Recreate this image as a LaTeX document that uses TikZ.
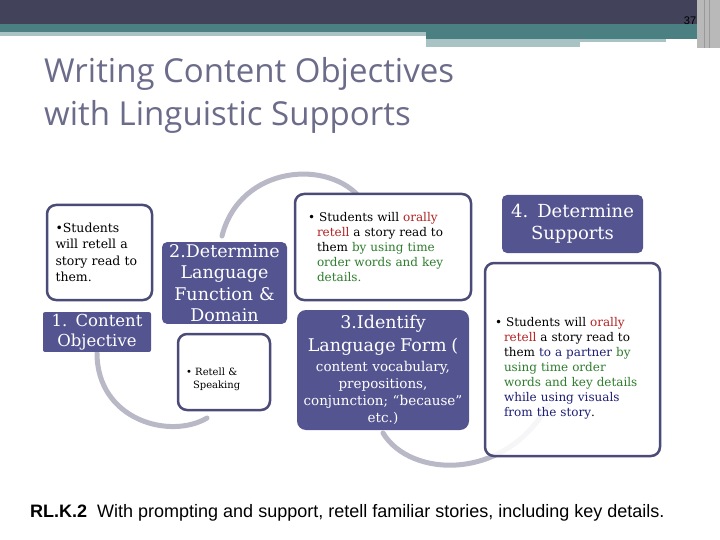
\documentclass[tikz,border=0pt]{standalone}
\usepackage{fontspec}
\setmainfont{DejaVu Serif}
\newfontfamily\titlefont{Open Sans}
\newfontfamily\arialf{Liberation Sans}
\definecolor{dark}{HTML}{42425A}
\definecolor{teal}{HTML}{4B8083}
\definecolor{lteal}{HTML}{A9C3C4}
\definecolor{boxline}{HTML}{4B4B78}
\definecolor{boxfill}{HTML}{545490}
\definecolor{arcgray}{HTML}{B8B8C6}
\definecolor{titlec}{HTML}{6B6B8A}
\definecolor{redt}{HTML}{B22222}
\definecolor{greent}{HTML}{2E7D2E}
\definecolor{bluet}{HTML}{1F1F75}
\tikzset{
  txtbox/.style={draw=boxline,line width=2.5pt,fill=white,rounded corners=9pt,inner sep=4pt,align=left,font=\fontsize{12}{15}\selectfont},
  lblbox/.style={fill=boxfill,text=white,rounded corners=5pt,inner sep=2pt,align=center,font=\fontsize{17.5}{21.5}\selectfont},
  arcline/.style={draw=arcgray,line width=5pt,line cap=round}
}
\begin{document}
\begin{tikzpicture}[x=1pt,y=-1pt]
\useasboundingbox (0,0) rectangle (720,540);
% header
\fill[dark] (0,0) rectangle (720,24);
\fill[teal] (0,24) rectangle (697,32);
\fill[lteal] (0,32) rectangle (426,36);
\fill[teal] (426,32) rectangle (697,39);
\fill[lteal] (426,39) rectangle (666,42);
\fill[lteal] (426,42) rectangle (580,47);
\fill[gray!55] (697,0) rectangle (720,48);
\draw[gray!80,line width=1pt] (704,0) -- (704,48) (709,0) -- (709,48);
\node (pg) at (690,21) {\fontsize{11}{11}\selectfont\arialf 37};
% title
\node[anchor=north west,align=left,text=titlec,inner sep=0pt,font=\titlefont\fontsize{33}{43}\selectfont] (title) at (44,57)
  {Writing Content Objectives\\with Linguistic Supports};
% arcs
\coordinate (a1s) at (97,353); \coordinate (a1e) at (207,418);
\draw[arcline] (a1s) .. controls (97,420) and (170,440) .. (a1e);
\coordinate (a2s) at (222,236); \coordinate (a2e) at (362,200);
\draw[arcline] (a2s) .. controls (240,165) and (330,158) .. (a2e);
\coordinate (a3s) at (383,433); \coordinate (a3e) at (548,405);
\draw[arcline] (a3s) .. controls (410,478) and (505,482) .. (a3e);
% boxes
\node[txtbox,minimum width=105pt,minimum height=95pt,text width=88pt,font=\fontsize{12.5}{16.5}\selectfont] (b1t) at (99.5,252.5)
  {\textbullet Students\\will retell a\\story read to\\them.};
\node[lblbox,rounded corners=2pt,minimum width=106pt,minimum height=38pt,text width=104pt,font=\fontsize{16.5}{20}\selectfont] (b1l) at (97,332)
  {1. Content\\Objective};
\node[lblbox,minimum width=123pt,minimum height=78pt,text width=121pt] (b2l) at (224.5,283)
  {2.Determine\\Language\\Function \&\\Domain};
\node[txtbox,minimum width=92pt,minimum height=76pt,text width=76pt,font=\fontsize{10}{12.5}\selectfont] (b2t) at (224,372)
  {\mbox{}\\[10pt]\textbullet\ Retell \&\\\hspace*{7pt}Speaking};
\node[txtbox,minimum width=176pt,minimum height=106pt,text width=150pt] (b3t) at (383,247)
  {\textbullet\ Students will \textcolor{redt}{orally}\\\hspace*{9pt}\textcolor{redt}{retell} a story read to\\\hspace*{9pt}them \textcolor{greent}{by using time}\\\hspace*{9pt}\textcolor{greent}{order words and key}\\\hspace*{9pt}\textcolor{greent}{details.}};
\node[lblbox,rounded corners=9pt,minimum width=172pt,minimum height=120pt,text width=168pt,font=\fontsize{13.5}{17}\selectfont] (b3l) at (383,370)
  {{\fontsize{17.5}{17}\selectfont 3.Identify}\\[5pt]{\fontsize{17.5}{17}\selectfont Language Form (}\\[3pt]content vocabulary,\\prepositions,\\conjunction; “because”\\etc.)};
\node[lblbox,minimum width=141pt,minimum height=58pt,text width=135pt,font=\fontsize{18}{22}\selectfont] (b4l) at (572.5,224)
  {4. Determine\\Supports};
\node[txtbox,fill opacity=0.88,text opacity=1,minimum width=175pt,minimum height=193pt,text width=155pt] (b4t) at (572.5,359.5)
  {\mbox{}\\[12pt]\textbullet\ Students will \textcolor{redt}{orally}\\\hspace*{9pt}\textcolor{redt}{retell} a story read to\\\hspace*{9pt}them \textcolor{bluet}{to a partner} \textcolor{greent}{by}\\\hspace*{9pt}\textcolor{greent}{using time order}\\\hspace*{9pt}\textcolor{greent}{words and key details}\\\hspace*{9pt}\textcolor{bluet}{while using visuals}\\\hspace*{9pt}\textcolor{bluet}{from the story}.};
% standard
\node[anchor=west,inner sep=0pt] (std) at (30,513)
  {\arialf\fontsize{18}{18}\selectfont\textbf{RL.K.2} \ With prompting and support, retell familiar stories, including key details.};
\end{tikzpicture}
\end{document}
